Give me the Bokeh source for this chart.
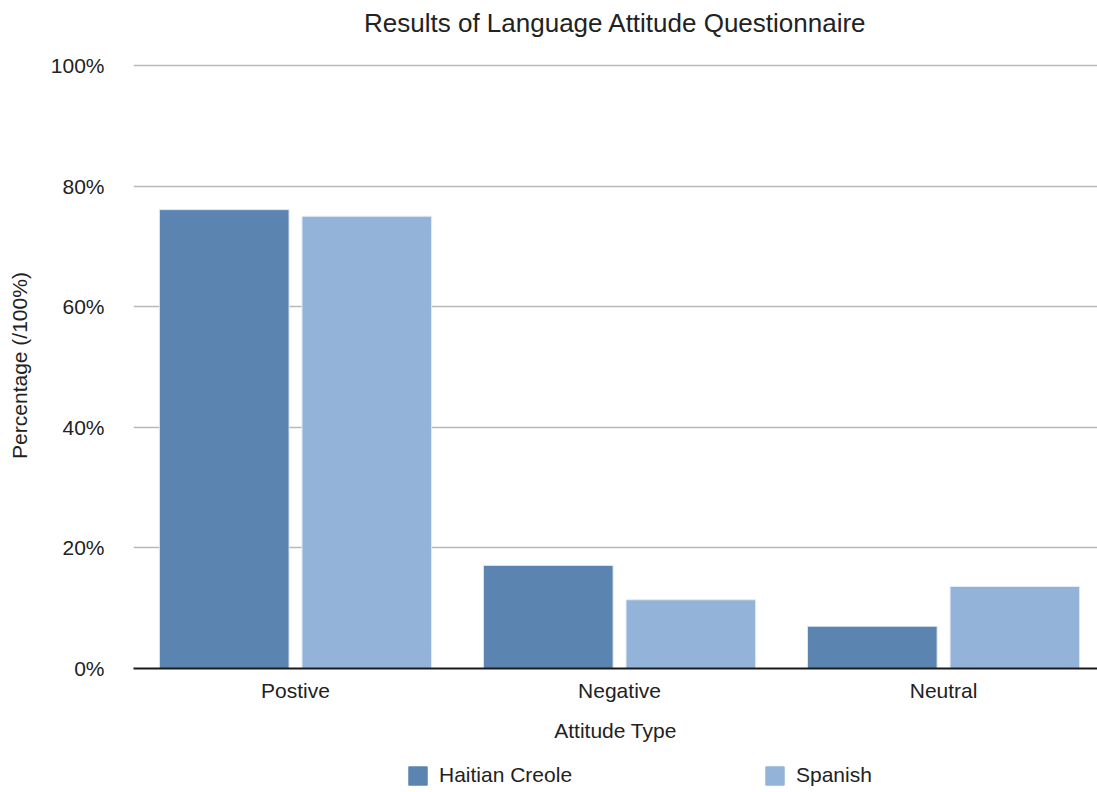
from bokeh.plotting import figure
from bokeh.layouts import column
from bokeh.models import (Range1d, FixedTicker, PrintfTickFormatter, Legend, LegendItem,
                          ColumnDataSource, Title)
from bokeh.embed import file_html
from bokeh.resources import INLINE

# ---- data ----
categories = ["Postive", "Negative", "Neutral"]
haitian_creole = [76.1, 17.1, 7.0]
spanish = [75.0, 11.4, 13.6]
y_ticks = [0, 20, 40, 60, 80, 100]
series_names = ["Haitian Creole", "Spanish"]
chart_title = "Results of Language Attitude Questionnaire"

# ---- styles ----
FONT = "Liberation Sans"
TXT = "#222222"
C_HC = "#5b84b1"
C_SP = "#93b4d8"

centers = [i + 0.5 for i in range(len(categories))]
src_hc = ColumnDataSource(dict(x=[c - 0.22 for c in centers], top=haitian_creole))
src_sp = ColumnDataSource(dict(x=[c + 0.22 for c in centers], top=spanish))

p = figure(width=1097, height=752, output_backend="svg", toolbar_location=None,
           x_range=Range1d(0, 2.975), y_range=Range1d(0, 100.5),
           min_border_left=133, min_border_right=0, min_border_top=62,
           min_border_bottom=84, title=None)
p.outline_line_color = None
p.background_fill_color = "white"
p.border_fill_color = "white"

# spacer between title and plot area, then the title itself
p.add_layout(Title(text=" ", text_font_size="12px", standoff=7), "above")
p.add_layout(Title(text=chart_title, text_font=FONT, text_font_size="26px",
                   text_font_style="normal", text_color=TXT, align="center",
                   vertical_align="top", standoff=0), "above")

r_hc = p.vbar(x="x", top="top", width=0.4, source=src_hc, fill_color=C_HC,
              line_color="#dce6f2", line_width=1)
r_sp = p.vbar(x="x", top="top", width=0.4, source=src_sp, fill_color=C_SP,
              line_color="#e3ecf6", line_width=1)

# x axis
p.xaxis.ticker = FixedTicker(ticks=centers)
p.xaxis.major_label_overrides = {c: n for c, n in zip(centers, categories)}
p.xaxis.major_tick_line_color = None
p.xaxis.minor_tick_line_color = None
p.xaxis.axis_line_color = "#1a1a1a"
p.xaxis.axis_line_width = 2
p.xaxis.major_label_standoff = 4
p.xaxis.major_label_text_font = FONT
p.xaxis.major_label_text_font_size = "21px"
p.xaxis.major_label_text_color = TXT
p.xaxis.axis_label = "Attitude Type"
p.xaxis.axis_label_text_font = FONT
p.xaxis.axis_label_text_font_size = "21px"
p.xaxis.axis_label_text_font_style = "normal"
p.xaxis.axis_label_text_color = TXT
p.xaxis.axis_label_standoff = 14

# y axis
p.yaxis.ticker = FixedTicker(ticks=y_ticks)
p.yaxis.formatter = PrintfTickFormatter(format="%d%%")
p.yaxis.major_tick_line_color = None
p.yaxis.minor_tick_line_color = None
p.yaxis.axis_line_color = None
p.yaxis.major_label_standoff = 23
p.yaxis.major_label_text_font = FONT
p.yaxis.major_label_text_font_size = "21px"
p.yaxis.major_label_text_color = TXT
p.yaxis.axis_label = "Percentage (/100%)"
p.yaxis.axis_label_text_font = FONT
p.yaxis.axis_label_text_font_size = "21px"
p.yaxis.axis_label_text_font_style = "normal"
p.yaxis.axis_label_text_color = TXT
p.yaxis.axis_label_standoff = 17

p.xgrid.grid_line_color = None
p.ygrid.ticker = FixedTicker(ticks=y_ticks)
p.ygrid.grid_line_color = "#b9b9b9"
p.ygrid.grid_line_width = 1.5

# ---- legend strip (separate figure below the chart; bars kept out of its view) ----
lg = figure(width=1097, height=40, output_backend="svg", toolbar_location=None,
            x_range=Range1d(0, 1), y_range=Range1d(200, 300),
            x_axis_type=None, y_axis_type=None, min_border=0)
lg.outline_line_color = None
lg.xgrid.grid_line_color = None
lg.ygrid.grid_line_color = None
lg_hc = lg.vbar(x="x", top="top", width=0.4, fill_color=C_HC, line_color=C_HC, source=src_hc)
lg_sp = lg.vbar(x="x", top="top", width=0.4, fill_color=C_SP, line_color=C_SP, source=src_sp)

legend = Legend(items=[LegendItem(label=series_names[0], renderers=[lg_hc]),
                       LegendItem(label=series_names[1], renderers=[lg_sp])],
                orientation="horizontal", location=(273, 5),
                margin=0, padding=0, spacing=124,
                glyph_width=23, glyph_height=23, label_width=200, label_height=18,
                label_standoff=10, border_line_color=None, background_fill_alpha=0,
                label_text_font=FONT, label_text_font_size="21px", label_text_color=TXT)
lg.add_layout(legend, "center")

layout = column(p, lg, spacing=0)
open("out.html", "w").write(file_html(layout, INLINE))
